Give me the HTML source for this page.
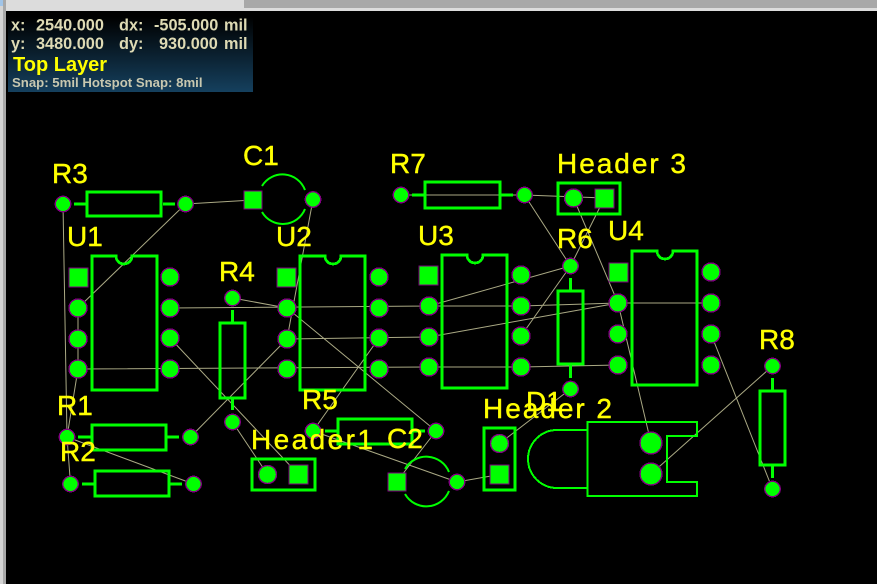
<!DOCTYPE html>
<html><head><meta charset="utf-8"><style>
html,body{margin:0;padding:0;background:#000;width:877px;height:584px;overflow:hidden}
svg{display:block}
.g{fill:none;stroke:#00ff00;stroke-width:2.7}
.t{fill:none;stroke:#00ff00;stroke-width:2}
.n{stroke:#aaa984;stroke-width:1;fill:none}
.p{fill:#00ff00;stroke:#800080;stroke-width:1.4}
.l{font-family:"Liberation Sans",sans-serif;font-size:28px;fill:#ffff00;stroke:#ffff00;stroke-width:0.4}
.h{font-family:"Liberation Sans",sans-serif;font-weight:bold;font-size:16.3px;fill:#dedab4}
</style></head><body>
<svg width="877" height="584" viewBox="0 0 877 584" xmlns="http://www.w3.org/2000/svg" shape-rendering="crispEdges">
<defs><linearGradient id="o" x1="0" y1="0" x2="0" y2="1"><stop offset="0" stop-color="#000"/><stop offset="1" stop-color="#15405e"/></linearGradient></defs>
<rect width="877" height="584" fill="#000"/>
<rect width="877" height="11" fill="#dcdcdc"/>
<rect x="244" y="0" width="633" height="8" fill="#a8a8a8"/>
<rect width="3" height="584" fill="#d4d4d4"/>
<rect x="3" y="0" width="3" height="584" fill="#a8a8a8"/>
<rect width="3" height="6" fill="#a0c4e8"/>
<rect x="8" y="17" width="245" height="75" fill="url(#o)"/>
<g shape-rendering="auto">
<text class="h" x="11" y="30.500">x:</text><text class="h" x="36" y="30.500">2540.000</text><text class="h" x="119" y="30.500">dx:</text><text class="h" x="154" y="30.500">-505.000</text><text class="h" x="224" y="30.500">mil</text>
<text class="h" x="11" y="49">y:</text><text class="h" x="36" y="49">3480.000</text><text class="h" x="119" y="49">dy:</text><text class="h" x="159" y="49">930.000</text><text class="h" x="224" y="49">mil</text>
<text x="13" y="71" font-family="Liberation Sans,sans-serif" font-weight="bold" font-size="20px" fill="#ffff00">Top Layer</text>
<text x="12" y="87" font-family="Liberation Sans,sans-serif" font-weight="bold" font-size="13.200px" fill="#c8c8b0">Snap: 5mil Hotspot Snap: 8mil</text>
</g>
<!-- ratsnest -->
<g class="n" shape-rendering="auto">
<path d="M63 204L67 437M185.500 204L253 200M185.500 204L78 308M313 199.500L287 339M232.500 298L287 308M287 308L436 431M287 339L190.500 437M170 338L298.500 474.500M232.500 422L267.500 474.500M313 431L379 338M436 431L396.500 482M457 482L313 431M457 482L499.500 474.500M499.500 443.500L570.500 389M67 437L70.500 484M67 437L193.500 484M78 308L78 369M78 369L67 437"/>
<path d="M170 308L429 306L521 306L618 303L711 303M78 369L429 367L521 367L618 365M287 339L429 337L618 303M429 306L570.500 266M570.500 266L521 336M524.500 195L570.500 266M604.500 198L570.500 266M401 195L524.500 195L604.500 198M573.500 198L618 303L651 443M711 334L772.500 489M772.500 366L651 474"/>
</g>
<!-- outlines -->
<g class="g">
<path d="M74 204H86M163 204H175"/><rect x="87" y="192" width="74" height="24"/>
<path d="M412 195H424M501 195H513"/><rect x="425" y="182" width="75" height="26"/>
<rect x="558" y="183" width="62" height="31"/>
<path d="M78 437H91M167 437H179"/><rect x="92" y="425" width="74" height="25"/>
<path d="M82 484H94M170 484H182"/><rect x="95" y="471" width="74" height="25"/>
<path d="M232.500 310V322M232.500 399V410"/><rect x="220" y="323" width="25" height="75"/>
<path d="M325 431H337M413 431H425"/><rect x="338" y="419" width="74" height="25"/>
<rect x="252" y="459" width="63" height="31"/>
<rect x="484" y="428" width="31" height="62"/>
<path d="M570.500 278V290M570.500 365V378"/><rect x="558" y="291" width="25" height="73"/>
<path d="M772.500 378V390M772.500 466V478"/><rect x="760" y="391" width="25" height="74"/>
<path d="M116 256H92V390H157V256H132A8 8 0 0 1 116 256Z"/>
<path d="M325 256H300V390H365V256H341A8 8 0 0 1 325 256Z"/>
<path d="M467 255H442V388H507V255H483A8 8 0 0 1 467 255Z"/>
<path d="M657 251H632V385H697V251H673A8 8 0 0 1 657 251Z"/>
</g>
<g class="t" shape-rendering="auto">
<path d="M262 186A24 24 0 0 1 305 190M262 212A24 24 0 0 0 305 209"/>
<path d="M405 469A24.500 24.500 0 0 1 449 472M405 494A24.500 24.500 0 0 0 449 491"/>
</g>
<g class="t">
<path d="M587.500 430H557A29 29 0 0 0 557 488H587.500"/>
<path d="M587.500 422H697V436H667V482H697V496H587.500Z"/>
</g>
<!-- pads -->
<g class="p">
<circle cx="63" cy="204" r="7.700"/><circle cx="185.500" cy="204" r="7.700"/>
<rect x="244" y="191" width="18" height="18"/><circle cx="313" cy="199.500" r="7.700"/>
<rect x="69" y="268" width="19" height="19"/><circle cx="78" cy="308" r="9"/><circle cx="78" cy="339" r="9"/><circle cx="78" cy="369" r="9"/>
<circle cx="170" cy="277" r="9"/><circle cx="170" cy="308" r="9"/><circle cx="170" cy="338" r="9"/><circle cx="170" cy="369" r="9"/>
<rect x="277" y="268" width="19" height="19"/><circle cx="287" cy="308" r="9"/><circle cx="287" cy="339" r="9"/><circle cx="287" cy="369" r="9"/>
<circle cx="379" cy="277" r="9"/><circle cx="379" cy="308" r="9"/><circle cx="379" cy="338" r="9"/><circle cx="379" cy="369" r="9"/>
<rect x="419" y="266" width="19" height="19"/><circle cx="429" cy="306" r="9"/><circle cx="429" cy="337" r="9"/><circle cx="429" cy="367" r="9"/>
<circle cx="521" cy="275" r="9"/><circle cx="521" cy="306" r="9"/><circle cx="521" cy="336" r="9"/><circle cx="521" cy="367" r="9"/>
<rect x="609" y="263" width="19" height="19"/><circle cx="618" cy="303" r="9"/><circle cx="618" cy="334" r="9"/><circle cx="618" cy="365" r="9"/>
<circle cx="711" cy="272" r="9"/><circle cx="711" cy="303" r="9"/><circle cx="711" cy="334" r="9"/><circle cx="711" cy="365" r="9"/>
<circle cx="232.500" cy="298" r="7.700"/><circle cx="232.500" cy="422" r="7.700"/>
<circle cx="67" cy="437" r="7.700"/><circle cx="190.500" cy="437" r="7.700"/>
<circle cx="70.500" cy="484" r="7.700"/><circle cx="193.500" cy="484" r="7.700"/>
<circle cx="267.500" cy="474.500" r="9"/><rect x="289" y="465" width="19" height="19"/>
<circle cx="313" cy="431" r="7.700"/><circle cx="436" cy="431" r="7.700"/>
<rect x="388" y="473" width="18" height="18"/><circle cx="457" cy="482" r="7.700"/>
<circle cx="499.500" cy="443.500" r="9"/><rect x="490" y="465" width="19" height="19"/>
<circle cx="651" cy="443" r="11"/><circle cx="651" cy="474" r="11"/>
<circle cx="772.500" cy="366" r="7.700"/><circle cx="772.500" cy="489" r="7.700"/>
<circle cx="401" cy="195" r="7.700"/><circle cx="524.500" cy="195" r="7.700"/>
<circle cx="573.500" cy="198" r="9"/><rect x="595" y="189" width="19" height="19"/>
<circle cx="570.500" cy="266" r="7.700"/><circle cx="570.500" cy="389" r="7.700"/>
</g>
<!-- labels -->
<g shape-rendering="auto">
<text class="l" x="52" y="183">R3</text>
<text class="l" x="243" y="165">C1</text>
<text class="l" x="67" y="246">U1</text>
<text class="l" x="276" y="246">U2</text>
<text class="l" x="219" y="281">R4</text>
<text class="l" x="390" y="173">R7</text>
<text class="l" x="557" y="173" textLength="129" lengthAdjust="spacing">Header 3</text>
<text class="l" x="418" y="245">U3</text>
<text class="l" x="557" y="248">R6</text>
<text class="l" x="608" y="240">U4</text>
<text class="l" x="759" y="349">R8</text>
<text class="l" x="57" y="415">R1</text>
<text class="l" x="60" y="461">R2</text>
<text class="l" x="302" y="409">R5</text>
<text class="l" x="251" y="449" textLength="122" lengthAdjust="spacing">Header1</text>
<text class="l" x="387" y="448">C2</text>
<text class="l" x="526" y="411">D1</text>
<text class="l" x="483" y="418" textLength="129" lengthAdjust="spacing">Header 2</text>
</g>
</svg>
</body></html>
